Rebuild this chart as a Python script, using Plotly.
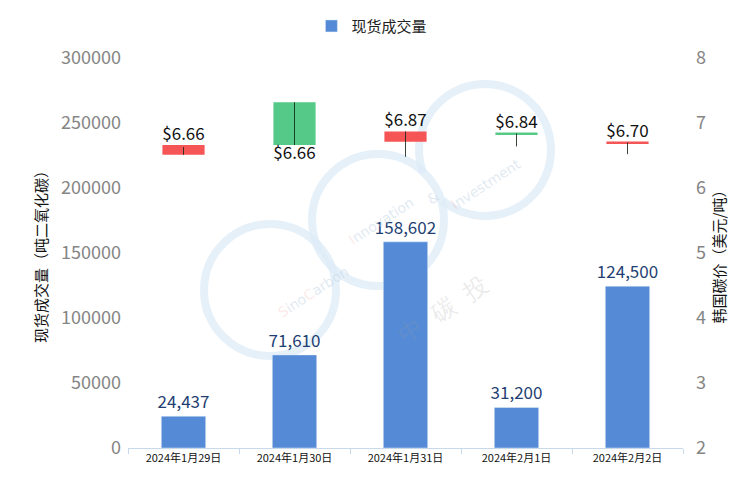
import math
import plotly.graph_objects as go

dates = ["2024年1月29日", "2024年1月30日", "2024年1月31日", "2024年2月1日", "2024年2月2日"]
volume = [24437, 71610, 158602, 31200, 124500]
volume_labels = ["24,437", "71,610", "158,602", "31,200", "124,500"]

price_open = [6.51, 7.32, 6.71, 6.825, 6.685]
price_close = [6.66, 6.66, 6.87, 6.84, 6.70]
price_high = [6.63, 7.32, 6.87, 6.84, 6.70]
price_low = [6.51, 6.66, 6.48, 6.64, 6.52]
price_labels = ["$6.66", "$6.66", "$6.87", "$6.84", "$6.70"]
candle_colors = ["#f65556", "#55c987", "#f65556", "#55c987", "#f65556"]
label_pos = ["top center", "bottom center", "top center", "top center", "top center"]

FONT = "Noto Sans CJK SC, Microsoft YaHei, sans-serif"

fig = go.Figure()

fig.add_trace(go.Bar(
    x=dates, y=volume, name="现货成交量", marker_color="#558bd6",
    width=0.4, text=volume_labels, textposition="outside", constraintext="none",
    textfont=dict(size=17, color="#1f3f73", family=FONT),
    cliponaxis=False, yaxis="y",
))

# candle bodies
body_base = [min(o, c) for o, c in zip(price_open, price_close)]
body_h = [max(abs(c - o), 0.03) for o, c in zip(price_open, price_close)]
fig.add_trace(go.Bar(
    x=dates, y=body_h, base=body_base, marker_color=candle_colors,
    marker_line_width=0, width=0.38, yaxis="y2", showlegend=False,
    hoverinfo="skip",
))

# wicks
wx, wy = [], []
for d, h, l in zip(dates, price_high, price_low):
    wx += [d, d, None]
    wy += [l, h, None]
fig.add_trace(go.Scatter(
    x=wx, y=wy, mode="lines", line=dict(color="rgba(20,40,25,0.85)", width=1),
    yaxis="y2", showlegend=False, hoverinfo="skip",
))

# price labels
label_y = [max(o, c) + 0.02 if p == "top center" else min(o, c) - 0.02
           for o, c, p in zip(price_open, price_close, label_pos)]
fig.add_trace(go.Scatter(
    x=dates, y=label_y, mode="text", text=price_labels, textposition=label_pos,
    textfont=dict(size=17, color="#111111", family=FONT),
    yaxis="y2", showlegend=False, cliponaxis=False, hoverinfo="skip",
))

W, H = 755, 478
L, R, T, B = 120, 80, 50, 38
# plot area as seen on screen (page has an 8px body margin)
SX0, SX1, SY0, SY1 = 128, 683, 58, 448

def px2paper(x, y):
    return (x - SX0) / (SX1 - SX0), (SY1 - y) / (SY1 - SY0)

ring_col = "rgba(222,236,248,0.8)"
shapes = []
for cx, cy, r in [(270, 290, 66), (378, 220, 66)]:
    x0, y1 = px2paper(cx - r, cy - r)
    x1, y0 = px2paper(cx + r, cy + r)
    shapes.append(dict(type="circle", xref="paper", yref="paper", x0=x0, x1=x1,
                       y0=y0, y1=y1, line=dict(color=ring_col, width=8),
                       layer="below"))
# partial ring (open at lower left)
cx, cy, r = 485, 150, 66
pts = []
for i in range(0, 61):
    a = math.radians(200 - i * 5.5)
    px_, py_ = cx + r * math.cos(a), cy - r * math.sin(a)
    pts.append(px2paper(px_, py_))
path = "M " + " L ".join(f"{x:.4f},{y:.4f}" for x, y in pts)
shapes.append(dict(type="path", xref="paper", yref="paper", path=path,
                   line=dict(color=ring_col, width=8), layer="below"))

annotations = []
def wm(text, x, y, size, color, angle=-33):
    xp, yp = px2paper(x, y)
    annotations.append(dict(text=text, x=xp, y=yp, xref="paper", yref="paper",
                            showarrow=False, textangle=angle,
                            font=dict(size=size, color=color, family="DejaVu Sans")))
pink = "rgba(240,140,140,0.4)"
lb = "rgba(195,212,230,0.5)"
wm(f"<span style='color:{pink}'>S</span>ino<span style='color:{pink}'>C</span>arbon",
   272, 292, 14, lb)
wm(f"<span style='color:{pink}'>I</span>nnovation", 381, 221, 14, lb)
wm("&", 433, 186, 14, lb)
wm(f"<span style='color:{pink}'>I</span>nvestment", 486, 153, 14, lb)
wm("中  碳  投", 443, 310, 24, "rgba(150,150,150,0.2)")

fig.update_layout(
    width=W, height=H,
    margin=dict(l=L, r=R, t=T, b=B, autoexpand=False),
    paper_bgcolor="white", plot_bgcolor="white",
    font=dict(family=FONT, color="#222222"),
    barmode="overlay",
    shapes=shapes,
    annotations=annotations,
    showlegend=True,
    legend=dict(orientation="h", x=0.482, xanchor="center", xref="container",
                y=0.962, yanchor="middle", yref="container",
                font=dict(size=15, color="#222222", family=FONT)),
    xaxis=dict(type="category", showline=True, linecolor="#c8d9ec", linewidth=1,
               ticks="outside", tickson="boundaries", ticklen=5, tickcolor="#c8d9ec",
               tickfont=dict(size=11, color="#111111", family=FONT), showgrid=False,
               range=[-0.5, 4.5]),
    yaxis=dict(range=[0, 300000], dtick=50000, tickformat="d", showgrid=False,
               zeroline=False, showline=False, ticklabelstandoff=6,
               tickfont=dict(size=18, color="#858585", family=FONT),
               title=dict(text="现货成交量（吨二氧化碳）", font=dict(size=15, color="#111111", family=FONT),
                          standoff=9)),
    yaxis2=dict(range=[2, 8], dtick=1, overlaying="y", side="right", showgrid=False,
                zeroline=False, showline=False, ticklabelstandoff=12,
                tickfont=dict(size=18, color="#858585", family=FONT),
                title=dict(text="韩国碳价（美元/吨）", font=dict(size=15, color="#111111", family=FONT),
                           standoff=9)),
)

fig.write_html("out.html")
